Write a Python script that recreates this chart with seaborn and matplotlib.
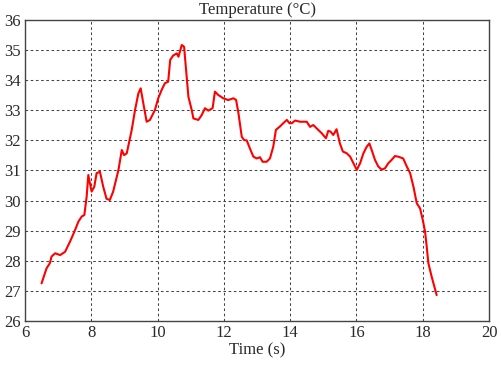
import matplotlib
matplotlib.use("Agg")
import matplotlib.pyplot as plt
import seaborn as sns
import pandas as pd

# values
time_s = [6.50, 6.65, 6.75, 6.80, 6.91, 7.06, 7.21, 7.36, 7.51, 7.61, 7.71, 7.79,
          7.86, 7.91, 7.96, 8.01, 8.09, 8.16, 8.26, 8.36, 8.46, 8.56, 8.66, 8.82,
          8.92, 8.99, 9.07, 9.22, 9.32, 9.42, 9.49, 9.57, 9.67, 9.77, 9.92, 10.02,
          10.12, 10.22, 10.32, 10.38, 10.47, 10.58, 10.63, 10.73, 10.80, 10.86,
          10.93, 11.03, 11.08, 11.23, 11.33, 11.43, 11.53, 11.66, 11.73, 11.83,
          11.98, 12.13, 12.29, 12.37, 12.44, 12.54, 12.61, 12.69, 12.79, 12.89,
          12.99, 13.09, 13.17, 13.29, 13.39, 13.49, 13.57, 13.69, 13.79, 13.90,
          13.98, 14.05, 14.15, 14.30, 14.50, 14.60, 14.70, 14.80, 14.95, 15.08,
          15.15, 15.22, 15.30, 15.40, 15.50, 15.59, 15.71, 15.81, 15.91, 16.01,
          16.11, 16.21, 16.31, 16.39, 16.46, 16.56, 16.66, 16.76, 16.86, 16.96,
          17.06, 17.16, 17.26, 17.41, 17.52, 17.62, 17.72, 17.82, 17.92, 18.00,
          18.07, 18.12, 18.17, 18.27, 18.42]
temperature_c = [27.25, 27.75, 27.92, 28.14, 28.25, 28.19, 28.30, 28.64, 29.02, 29.30, 29.47, 29.52,
                 30.13, 30.85, 30.57, 30.30, 30.46, 30.91, 30.96, 30.46, 30.06, 30.02, 30.30, 31.02,
                 31.68, 31.51, 31.57, 32.35, 33.01, 33.56, 33.73, 33.23, 32.62, 32.68, 33.01, 33.40,
                 33.67, 33.90, 33.95, 34.67, 34.82, 34.89, 34.78, 35.17, 35.11, 34.34,
                 33.45, 33.01, 32.73, 32.68, 32.84, 33.07, 32.99, 33.07, 33.62, 33.51,
                 33.40, 33.34, 33.40, 33.34, 32.90, 32.12, 32.01, 32.00, 31.72, 31.46,
                 31.40, 31.44, 31.29, 31.29, 31.40, 31.79, 32.35, 32.46, 32.57, 32.68,
                 32.57, 32.57, 32.66, 32.62, 32.62, 32.45, 32.51, 32.40, 32.24, 32.07,
                 32.32, 32.29, 32.18, 32.37, 31.90, 31.63, 31.57, 31.46, 31.24, 31.02,
                 31.24, 31.57, 31.79, 31.90, 31.68, 31.35, 31.13, 31.03, 31.07, 31.24,
                 31.35, 31.48, 31.46, 31.40, 31.13, 30.91, 30.46, 29.91, 29.74, 29.36,
                 28.97, 28.47, 27.92, 27.47, 26.86]

x_ticks = [6, 8, 10, 12, 14, 16, 18, 20]
y_ticks = [26, 27, 28, 29, 30, 31, 32, 33, 34, 35, 36]

df = pd.DataFrame({"Time (s)": time_s, "Temperature": temperature_c})

sns.set_style("white")
plt.rcParams["font.family"] = ["Liberation Serif", "DejaVu Serif"]

fig = plt.figure(figsize=(5.01, 3.76), dpi=100)
ax = fig.add_axes([0.0499, 0.1463, 0.9262, 0.8005])

sns.lineplot(data=df, x="Time (s)", y="Temperature", color="red", linewidth=1.5,
             sort=False, ax=ax)

ax.set_xlim(6, 20)
ax.set_ylim(26, 36)
ax.set_xticks(x_ticks)
ax.set_yticks(y_ticks)
ax.tick_params(direction="in", length=3, labelsize=12, colors="#333333", pad=3)
for lbl in ax.get_xticklabels() + ax.get_yticklabels():
    lbl.set_color("#2a2a2a")
ax.grid(True, color="#444444", linestyle=(0, (2.5, 2.5)), linewidth=0.75)
for s in ax.spines.values():
    s.set_color("#444444")
    s.set_linewidth(1.0)

ax.set_xlabel("Time (s)", fontsize=12, color="#2a2a2a", labelpad=1)
ax.set_ylabel("")
ax.set_title("Temperature (°C)", fontsize=12, color="#2a2a2a", pad=4)

fig.savefig("out.png", dpi=100)
